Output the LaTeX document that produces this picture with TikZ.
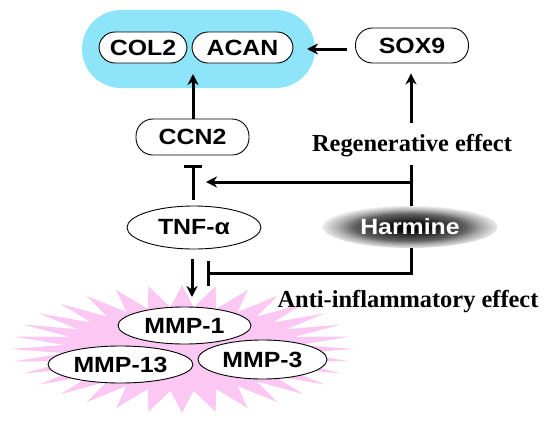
\documentclass[tikz,border=0pt]{standalone}
\usepackage{fontspec}
\usetikzlibrary{arrows.meta,calc,shapes.geometric}
\newfontfamily\nodefont[FakeStretch=1.13]{Liberation Sans}
\newfontfamily\efffont{Liberation Serif}
\definecolor{bluebg}{RGB}{142,229,250}
\definecolor{pinkbg}{RGB}{250,200,243}
\pgfdeclareradialshading{harmshade}{\pgfpoint{0bp}{0bp}}{color(0bp)=(black); color(5bp)=(black!95); color(16bp)=(black!62); color(20bp)=(black!35); color(25bp)=(black!8); color(50bp)=(black!8)}
\tikzset{
  gene/.style={draw=black, line width=0.9pt, fill=white, rounded corners=16pt, inner sep=0pt,
    font=\nodefont\fontsize{22}{24}\selectfont\bfseries},
  ell/.style={draw=black, line width=0.9pt, fill=white, ellipse, inner sep=0pt,
    font=\nodefont\fontsize{22}{24}\selectfont\bfseries},
  effect/.style={font=\efffont\fontsize{24.4}{26}\selectfont\bfseries, inner sep=0pt},
  conn/.style={line width=3pt, draw=black},
  arr/.style={conn, -{Stealth[length=11pt,width=11pt,inset=3.5pt]}},
  inh/.style={conn, -{Bar[width=18pt]}},
  inhbig/.style={conn, -{Bar[width=25pt]}}
}
\begin{document}
\begin{tikzpicture}[x=1pt,y=-1pt]
\useasboundingbox (0,0) rectangle (550,424);
% starburst
\fill[pinkbg] (354,349)
  \foreach \i in {1,...,63} {
    -- ({182+ifthenelse(mod(\i,2)==0,172,118)*cos(\i*5.625)},{349+ifthenelse(mod(\i,2)==0,64,42)*sin(\i*5.625)})
  } -- cycle;
% blue background
\node[fill=bluebg, rounded corners=39pt, minimum width=233pt, minimum height=78pt, inner sep=0pt] (blue) at (198.5,49) {};
\node[gene, minimum width=88pt, minimum height=31pt] (col2) at (143,47.5) {COL2};
\node[gene, minimum width=101pt, minimum height=31pt] (acan) at (242.5,47.5) {ACAN};
\node[gene, rounded corners=17pt, minimum width=113pt, minimum height=35pt] (sox9) at (412,45.5) {SOX9};
\node[gene, rounded corners=17pt, minimum width=113pt, minimum height=36pt] (ccn2) at (192.5,137) {CCN2};
\node[ell, minimum width=134pt, minimum height=43pt] (tnf) at (194,227.5) {TNF-α};
\node[ell, minimum width=133pt, minimum height=37pt] (mmp1) at (184.5,325.5) {MMP-1};
\node[ell, minimum width=145pt, minimum height=37pt] (mmp13) at (120.5,364.5) {MMP-13};
\node[ell, minimum width=129pt, minimum height=39pt] (mmp3) at (262.5,359.5) {MMP-3};
\node[effect] (regen) at (412,146) {Regenerative effect};
\node[effect] (anti) at (408,302) {Anti-inflammatory effect};
% connectors
\coordinate (soxout) at (347,49);
\coordinate (bluein) at (307,49);
\draw[arr] (soxout) -- (bluein);
\coordinate (ccnup) at (193,74);
\draw[arr] (ccn2.north -| ccnup) -- (ccnup);
\coordinate (regtop) at (411,123);
\coordinate (regbot) at (411,165);
\coordinate (junc) at (411,182);
\coordinate (ccnin) at (206,182);
\coordinate (tnfup) at (193,200);
\coordinate (ccnbar) at (193,165);
\coordinate (harmbot) at (411,273);
\coordinate (mmpbar) at (207,273);
\coordinate (tnfdown) at (192,259);
\coordinate (mmpin) at (192,297);
\draw[arr] (regtop) -- ($(sox9.south)+(-1,10)$);
\draw[inh] (tnfup) -- (ccnbar);
\draw[arr] (tnfdown) -- (mmpin);
\node[ellipse, shading=harmshade, minimum width=175pt, minimum height=42pt, inner sep=0pt,
  text=white, font=\nodefont\fontsize{22}{24}\selectfont\bfseries] (harm) at (410,227) {Harmine};
\draw[conn] (regbot) -- (harm.north -| regbot);
\draw[arr] (junc) -- (ccnin);
\draw[inhbig] (harm.south -| harmbot) -- (harmbot) -- (mmpbar);
\end{tikzpicture}
\end{document}
